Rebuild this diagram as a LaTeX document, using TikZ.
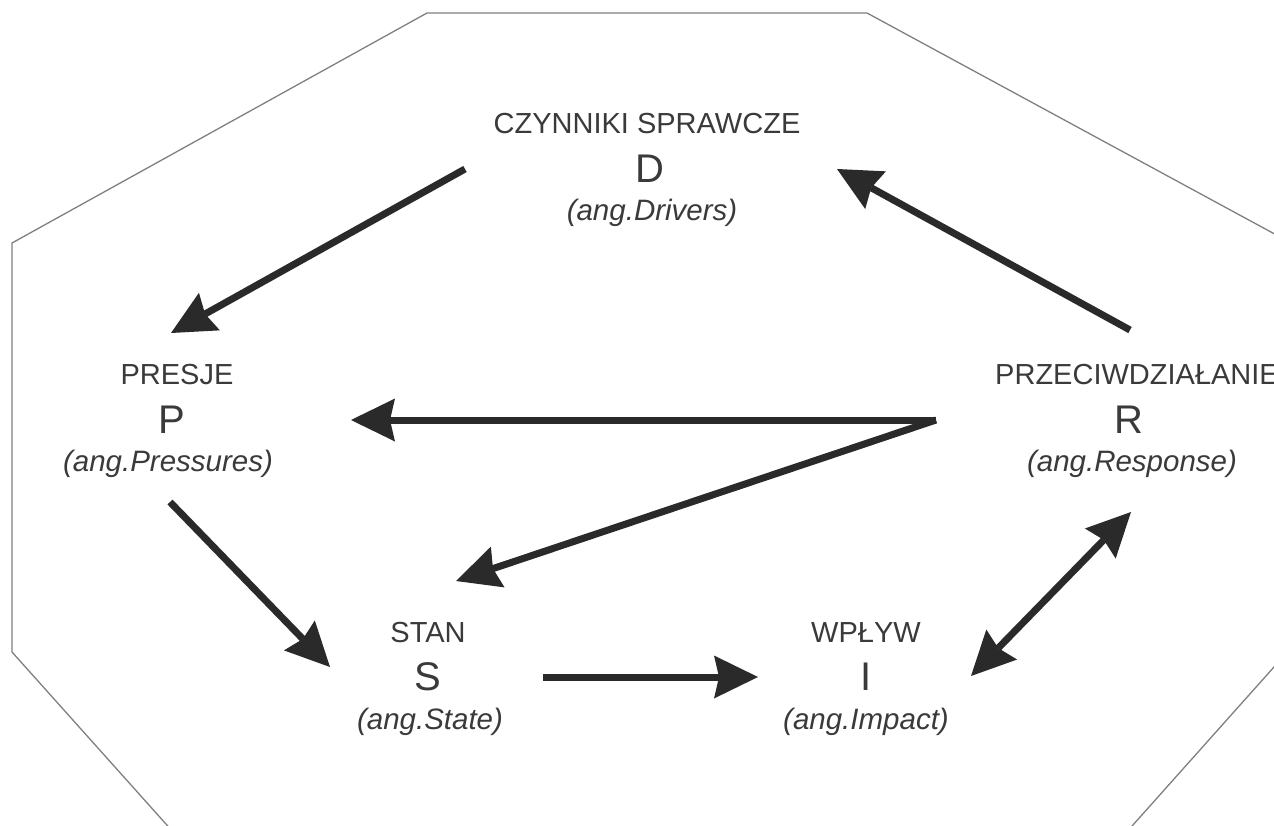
\documentclass[tikz,border=0pt]{standalone}
\usepackage{fontspec}
\setmainfont{Liberation Sans}
\usetikzlibrary{arrows.meta}
\definecolor{txt}{HTML}{3A3A3A}
\definecolor{arr}{HTML}{2A2A2A}
\definecolor{octc}{HTML}{808080}
\begin{document}
\begin{tikzpicture}[x=1pt,y=-1pt,
  ttl/.style={anchor=base, inner sep=0pt, text=txt, font=\fontsize{29}{34}\selectfont},
  ltr/.style={anchor=base, inner sep=0pt, text=txt, font=\fontsize{40}{46}\selectfont},
  eng/.style={anchor=base, inner sep=0pt, text=txt, font=\fontsize{29.5}{34}\selectfont\itshape},
  tipx/.tip={Stealth[length=44pt,width=43pt,inset=5pt,line width=0pt]},
  conn/.style={draw=arr, line width=7pt, -tipx},
  oct/.style={draw=octc, line width=1.3pt}]
\useasboundingbox (0,0) rectangle (1274,825);
\clip (0,0) rectangle (1274,825);
\fill[white] (0,0) rectangle (1274,825);
\draw[oct] (427,13) -- (867,13) -- (1282,238) -- (1282,658) -- (1066,900)
  -- (234,900) -- (12,652) -- (12,243) -- cycle;

% D
\node[ttl] (Dt) at (647,133) {CZYNNIKI SPRAWCZE};
\node[ltr] (Dl) at (650,182) {D};
\node[eng] (De) at (652,220) {(ang.Drivers)};
% P
\node[ttl] (Pt) at (177,384) {PRESJE};
\node[ltr] (Pl) at (172,433) {P};
\node[eng] (Pe) at (168,471) {(ang.Pressures)};
% R
\node[ttl] (Rt) at (1137,384) {PRZECIWDZIAŁANIE};
\node[ltr] (Rl) at (1129,433) {R};
\node[eng] (Re) at (1132,471) {(ang.Response)};
% S
\node[ttl] (St) at (428,642) {STAN};
\node[ltr] (Sl) at (428,690) {S};
\node[eng] (Se) at (430,729) {(ang.State)};
% I
\node[ttl] (It) at (866,642) {WPŁYW};
\node[ltr] (Il) at (866,690) {I};
\node[eng] (Ie) at (866,729) {(ang.Impact)};

% connector end points
\coordinate (dpA) at (465,169);
\coordinate (dpB) at (171,333);
\coordinate (rdA) at (1130,330);
\coordinate (rdB) at (837,169);
\coordinate (rJ) at (936,420);
\coordinate (rpB) at (351,420);
\coordinate (rsB) at (456,581);
\coordinate (psA) at (170,502);
\coordinate (psB) at (330,667);
\coordinate (siA) at (543,677);
\coordinate (siB) at (758,677);
\coordinate (irA) at (971,676);
\coordinate (irB) at (1131,512);

\draw[conn] (dpA) -- (dpB);
\draw[conn] (rdA) -- (rdB);
\draw[conn] (rJ) -- (rpB);
\draw[conn] (rJ) -- (rsB);
\draw[conn] (psA) -- (psB);
\draw[conn] (siA) -- (siB);
\draw[conn, tipx-tipx] (irA) -- (irB);
\end{tikzpicture}
\end{document}
